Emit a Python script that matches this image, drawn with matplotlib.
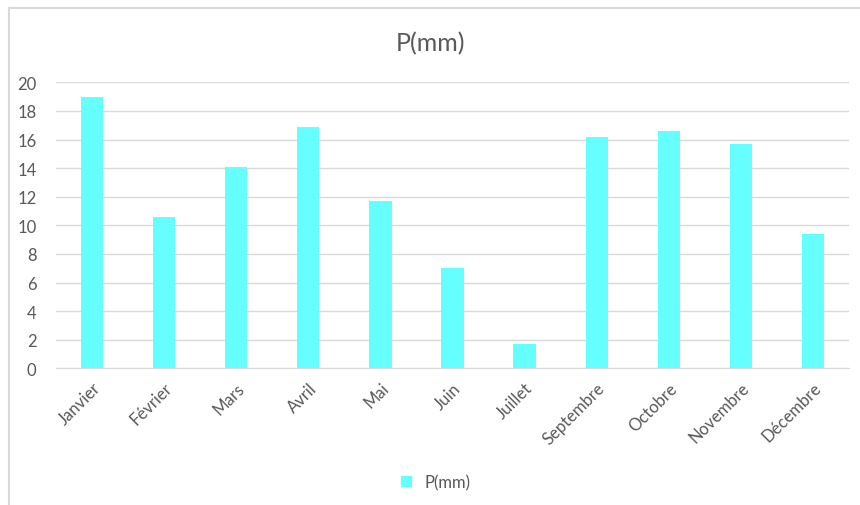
import matplotlib.pyplot as plt
from matplotlib.lines import Line2D

months = ['Janvier', 'Février', 'Mars', 'Avril', 'Mai', 'Juin', 'Juillet',
          'Septembre', 'Octobre', 'Novembre', 'Décembre']
precip = [19.0, 10.6, 14.1, 16.9, 11.7, 7.0, 1.7, 16.2, 16.6, 15.7, 9.4]
yticks = [0, 2, 4, 6, 8, 10, 12, 14, 16, 18, 20]

W, H = 860, 506
text_grey = '#595959'
bar_color = '#66FFFF'

plt.rcParams['font.family'] = ['Lato', 'DejaVu Sans']

fig = plt.figure(figsize=(W / 100, H / 100), dpi=100)
ax = fig.add_axes([56 / W, 1 - 369.3 / H, (849 - 56) / W, (369.3 - 83.3) / H])

x = range(len(months))
ax.bar(x, precip, width=0.31, color=bar_color, zorder=3, label='P(mm)')

ax.set_xlim(-0.5, len(months) - 0.5)
ax.set_ylim(0, 20)
ax.set_yticks(yticks)
ax.yaxis.grid(True, color='#D9D9D9', linewidth=1, zorder=0)
ax.set_xticks(list(x))
ax.set_xticklabels(months, rotation=45, ha='right', rotation_mode='anchor')
ax.tick_params(axis='both', length=0, colors=text_grey, labelsize=12)
ax.tick_params(axis='y', pad=14)
ax.tick_params(axis='x', pad=8)
for side in ['top', 'right', 'left']:
    ax.spines[side].set_visible(False)
ax.spines['bottom'].set_color('#D9D9D9')

# chart title and legend below the axis labels
fig.text(0.5, 1 - 44 / H, 'P(mm)', ha='center', va='center', fontsize=18, color=text_grey)
handle = Line2D([], [], marker='s', linestyle='none', color=bar_color, markersize=7)
fig.legend([handle], ['P(mm)'], loc='center', bbox_to_anchor=(0.5, 1 - 483 / H),
           frameon=False, fontsize=12, labelcolor=text_grey, handletextpad=0.1)

# outer chart border (top and left edges visible)
fig.add_artist(Line2D([9 / W, 1], [1 - 9 / H, 1 - 9 / H], color='#D9D9D9', linewidth=1.5))
fig.add_artist(Line2D([9 / W, 9 / W], [1 - 9 / H, 0], color='#D9D9D9', linewidth=1.5))

fig.savefig('out.png', dpi=100)
